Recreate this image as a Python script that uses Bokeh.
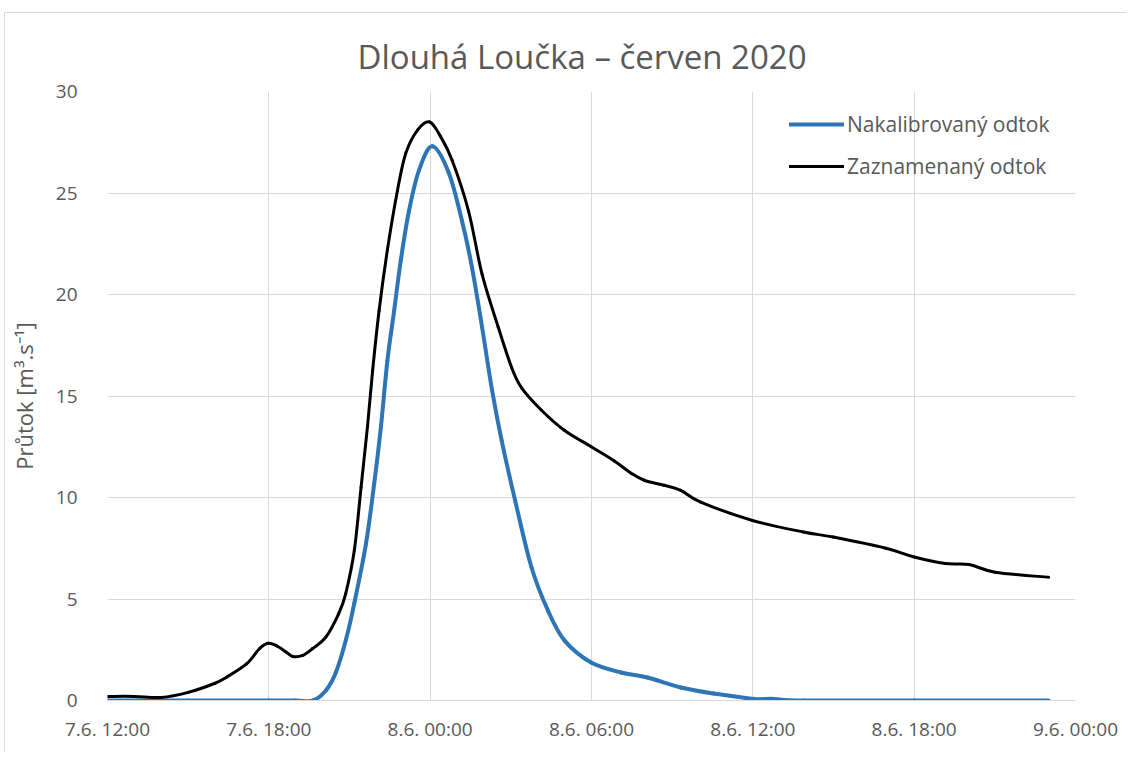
from bokeh.plotting import figure
from bokeh.models import FixedTicker, Legend, LegendItem
from bokeh.embed import file_html
from bokeh.resources import INLINE

# hours since 7.6. 12:00
tick_hours = [0, 6, 12, 18, 24, 30, 36]
tick_labels = ["7.6. 12:00", "7.6. 18:00", "8.6. 00:00", "8.6. 06:00",
               "8.6. 12:00", "8.6. 18:00", "9.6. 00:00"]
y_ticks = [0, 5, 10, 15, 20, 25, 30]

hours_zaz = [0.0, 1.0, 2.0, 3.0, 4.0, 4.43, 5.17, 5.65, 5.97, 6.28, 6.65, 6.89,
             7.26, 7.63, 8.12, 8.6, 8.86, 9.18, 9.43, 9.67, 9.86, 10.1, 10.41,
             10.78, 11.09, 11.53, 11.98, 12.38, 12.82, 13.43, 13.93, 14.53,
             15.03, 15.4, 16.14, 17.0, 17.99, 18.85, 19.47, 19.96, 20.7, 21.32,
             22.06, 23.99, 25.88, 26.99, 28.95, 30.0, 31.16, 32.04, 33.01, 35.0]
q_zaz = [0.2, 0.2, 0.15, 0.4, 0.85, 1.15, 1.8, 2.55, 2.82, 2.7, 2.38, 2.17,
         2.22, 2.56, 3.12, 4.28, 5.27, 7.4, 10.5, 13.5, 16.25, 19.2, 22.2,
         25.1, 26.95, 28.1, 28.5, 27.8, 26.6, 24.1, 21.0, 18.4,
         16.4, 15.4, 14.3, 13.3, 12.5, 11.8, 11.2, 10.85, 10.6, 10.35,
         9.77, 8.87, 8.3, 8.05, 7.5, 7.07, 6.75, 6.7, 6.32, 6.07]

hours_nak = [0.0, 3.0, 6.0, 7.0, 7.65, 8.13, 8.5, 8.87, 9.18, 9.61, 9.92,
             10.17, 10.41, 10.66, 10.91, 11.21, 11.58, 12.08, 12.69, 13.19,
             13.56, 13.93, 14.3, 14.66, 15.16, 15.77, 16.39, 17.0, 17.99,
             19.1, 20.08, 21.32, 22.55, 24.03, 24.77, 25.88, 30.0, 35.0]
q_nak = [0.0, 0.0, 0.0, 0.0, 0.0, 0.5, 1.4, 3.0, 4.8, 7.7, 10.7,
         13.5, 16.75, 19.2, 21.7, 24.1, 26.1, 27.3, 26.0, 23.6,
         21.3, 18.4, 15.3, 12.8, 9.85, 6.55, 4.4, 2.95, 1.87,
         1.38, 1.13, 0.64, 0.34, 0.08, 0.08, 0.0, 0.0, 0.0]

title_text = "Dlouhá Loučka – červen 2020"
y_label = "Průtok [m³.s⁻¹]"
series_names = ["Nakalibrovaný odtok", "Zaznamenaný odtok"]

FONT = "Open Sans"
GRAY = "#595959"
GRID = "#d9d9d9"


def smooth_segments(xs, ys):
    """Smoothed-line rendering (like a spreadsheet's 'smoothed line'):
    cubic Bezier segments between consecutive data points."""
    n = len(xs)
    out = {k: [] for k in ("x0", "y0", "x1", "y1", "cx0", "cy0", "cx1", "cy1")}
    for i in range(n - 1):
        xa, ya = xs[i], ys[i]
        xb, yb = xs[i + 1], ys[i + 1]
        xm, ym = (xs[i - 1], ys[i - 1]) if i > 0 else (xa, ya)
        xp, yp = (xs[i + 2], ys[i + 2]) if i + 2 < n else (xb, yb)
        out["x0"].append(xa); out["y0"].append(ya)
        out["x1"].append(xb); out["y1"].append(yb)
        out["cx0"].append(xa + (xb - xm) / 6); out["cy0"].append(ya + (yb - ym) / 6)
        out["cx1"].append(xb - (xp - xa) / 6); out["cy1"].append(yb - (yp - ya) / 6)
    return out


p = figure(width=1122, height=740, output_backend="svg", toolbar_location=None,
           x_range=(0, 36), y_range=(0, 30))
p.styles = {"margin-left": "4px", "margin-top": "12px",
            "border-left": "1px solid #d9d9d9", "border-top": "1px solid #d9d9d9"}
p.min_border_left = 95
p.min_border_right = 52
p.min_border_top = 78
p.min_border_bottom = 53
p.outline_line_color = None
p.background_fill_color = "white"
p.border_fill_color = "white"

p.title.text = title_text
p.title.align = "left"
p.title.offset = 250
p.title.standoff = 26
p.title.text_font = FONT
p.title.text_font_size = "33px"
p.title.text_font_style = "normal"
p.title.text_color = GRAY

p.xaxis.ticker = FixedTicker(ticks=tick_hours)
p.xaxis.major_label_overrides = {h: l for h, l in zip(tick_hours, tick_labels)}
p.yaxis.ticker = FixedTicker(ticks=y_ticks)
p.xgrid.ticker = FixedTicker(ticks=tick_hours)

for ax in (p.xaxis, p.yaxis):
    ax.major_tick_line_color = None
    ax.minor_tick_line_color = None
    ax.major_label_text_font = FONT
    ax.major_label_text_font_size = "19px"
    ax.major_label_text_color = GRAY
p.xaxis.axis_line_color = GRID
p.yaxis.axis_line_color = None
p.xaxis.major_label_standoff = 9
p.yaxis.major_label_standoff = 24

p.yaxis.axis_label = y_label
p.yaxis.axis_label_text_font = FONT
p.yaxis.axis_label_text_font_size = "22px"
p.yaxis.axis_label_text_font_style = "normal"
p.yaxis.axis_label_text_color = GRAY
p.yaxis.axis_label_standoff = 14

p.xgrid.grid_line_color = GRID
p.ygrid.grid_line_color = GRID

s_nak = smooth_segments(hours_nak, q_nak)
s_zaz = smooth_segments(hours_zaz, q_zaz)
r_nak = p.bezier(source=s_nak, x0="x0", y0="y0", x1="x1", y1="y1",
                 cx0="cx0", cy0="cy0", cx1="cx1", cy1="cy1",
                 line_color="#2E75B6", line_width=4, line_cap="round")
r_zaz = p.bezier(source=s_zaz, x0="x0", y0="y0", x1="x1", y1="y1",
                 cx0="cx0", cy0="cy0", cx1="cx1", cy1="cy1",
                 line_color="black", line_width=3, line_cap="round")

legend = Legend(items=[LegendItem(label=series_names[0], renderers=[r_nak]),
                       LegendItem(label=series_names[1], renderers=[r_zaz])],
                location=(682, 520))
legend.border_line_color = None
legend.background_fill_alpha = 0
legend.padding = 0
legend.margin = 0
legend.glyph_width = 55
legend.glyph_height = 20
legend.label_height = 20
legend.spacing = 14
legend.label_standoff = 3
legend.label_text_font = FONT
legend.label_text_font_size = "21px"
legend.label_text_color = GRAY
p.add_layout(legend, "center")

open("out.html", "w").write(file_html(p, INLINE))
